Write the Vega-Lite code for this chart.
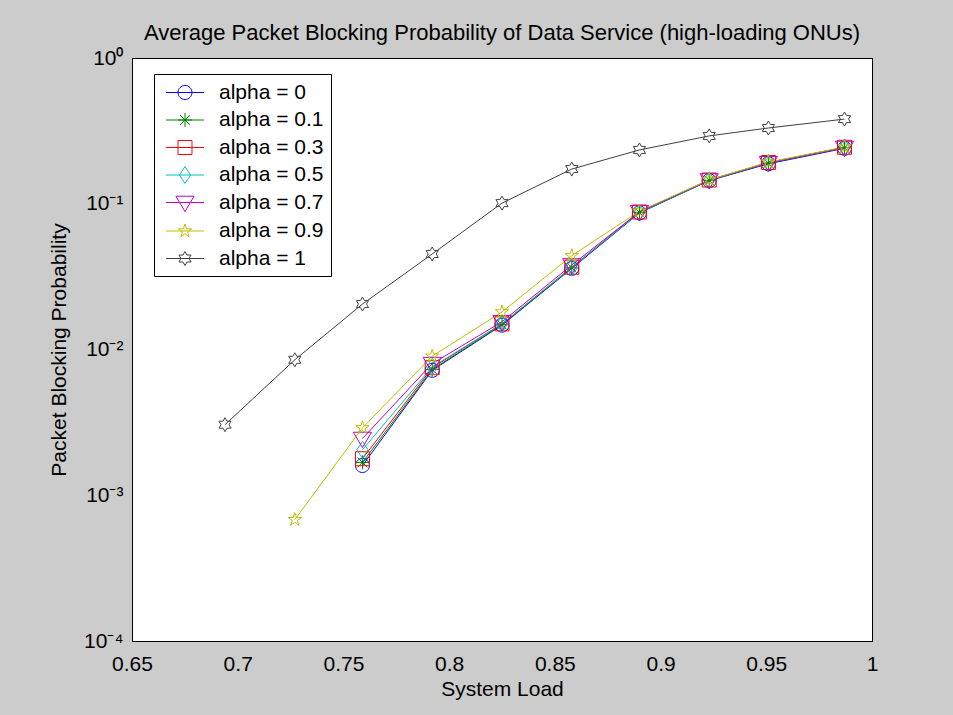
{
  "$schema": "https://vega.github.io/schema/vega-lite/v6.json",
  "width": 740,
  "height": 583,
  "autosize": {"type": "none"},
  "padding": {"left": 132, "top": 58, "right": 81, "bottom": 74},
  "background": "#cccccc",
  "title": {"text": "Average Packet Blocking Probability of Data Service (high-loading ONUs)", "font": "Liberation Sans", "fontSize": 22, "fontWeight": "normal", "color": "#000000", "anchor": "middle", "offset": 2},
  "config": {
    "view": {"fill": "white", "stroke": "black", "strokeWidth": 1},
    "axis": {"domainColor": "black", "tickColor": "black", "labelColor": "black", "titleColor": "black", "labelFont": "Liberation Sans", "titleFont": "Liberation Sans", "labelFontSize": 21, "titleFontSize": 21, "titleFontWeight": "normal", "grid": false, "labelOverlap": false, "labelFlush": false, "tickSize": 0}
  },
  "data": {"values": [
    {"s": "alpha = 0", "x": 0.759, "y": 0.0016},
    {"s": "alpha = 0", "x": 0.792, "y": 0.0072},
    {"s": "alpha = 0", "x": 0.825, "y": 0.0147},
    {"s": "alpha = 0", "x": 0.858, "y": 0.036},
    {"s": "alpha = 0", "x": 0.89, "y": 0.0865},
    {"s": "alpha = 0", "x": 0.923, "y": 0.144},
    {"s": "alpha = 0", "x": 0.951, "y": 0.188},
    {"s": "alpha = 0", "x": 0.987, "y": 0.24},
    {"s": "alpha = 0.1", "x": 0.759, "y": 0.00168},
    {"s": "alpha = 0.1", "x": 0.792, "y": 0.0073},
    {"s": "alpha = 0.1", "x": 0.825, "y": 0.0148},
    {"s": "alpha = 0.1", "x": 0.858, "y": 0.0363},
    {"s": "alpha = 0.1", "x": 0.89, "y": 0.087},
    {"s": "alpha = 0.1", "x": 0.923, "y": 0.1445},
    {"s": "alpha = 0.1", "x": 0.951, "y": 0.19},
    {"s": "alpha = 0.1", "x": 0.987, "y": 0.242},
    {"s": "alpha = 0.3", "x": 0.759, "y": 0.00178},
    {"s": "alpha = 0.3", "x": 0.792, "y": 0.0075},
    {"s": "alpha = 0.3", "x": 0.825, "y": 0.015},
    {"s": "alpha = 0.3", "x": 0.858, "y": 0.0367},
    {"s": "alpha = 0.3", "x": 0.89, "y": 0.0878},
    {"s": "alpha = 0.3", "x": 0.923, "y": 0.1455},
    {"s": "alpha = 0.3", "x": 0.951, "y": 0.192},
    {"s": "alpha = 0.3", "x": 0.987, "y": 0.244},
    {"s": "alpha = 0.5", "x": 0.759, "y": 0.00205},
    {"s": "alpha = 0.5", "x": 0.792, "y": 0.0076},
    {"s": "alpha = 0.5", "x": 0.825, "y": 0.015},
    {"s": "alpha = 0.5", "x": 0.858, "y": 0.0365},
    {"s": "alpha = 0.5", "x": 0.89, "y": 0.0872},
    {"s": "alpha = 0.5", "x": 0.923, "y": 0.145},
    {"s": "alpha = 0.5", "x": 0.951, "y": 0.191},
    {"s": "alpha = 0.5", "x": 0.987, "y": 0.244},
    {"s": "alpha = 0.7", "x": 0.759, "y": 0.00245},
    {"s": "alpha = 0.7", "x": 0.792, "y": 0.008},
    {"s": "alpha = 0.7", "x": 0.825, "y": 0.0155},
    {"s": "alpha = 0.7", "x": 0.858, "y": 0.038},
    {"s": "alpha = 0.7", "x": 0.89, "y": 0.088},
    {"s": "alpha = 0.7", "x": 0.923, "y": 0.1455},
    {"s": "alpha = 0.7", "x": 0.951, "y": 0.191},
    {"s": "alpha = 0.7", "x": 0.987, "y": 0.243},
    {"s": "alpha = 0.9", "x": 0.727, "y": 0.00068},
    {"s": "alpha = 0.9", "x": 0.759, "y": 0.0029},
    {"s": "alpha = 0.9", "x": 0.792, "y": 0.009},
    {"s": "alpha = 0.9", "x": 0.825, "y": 0.0181},
    {"s": "alpha = 0.9", "x": 0.858, "y": 0.044},
    {"s": "alpha = 0.9", "x": 0.89, "y": 0.089},
    {"s": "alpha = 0.9", "x": 0.923, "y": 0.146},
    {"s": "alpha = 0.9", "x": 0.951, "y": 0.193},
    {"s": "alpha = 0.9", "x": 0.987, "y": 0.245},
    {"s": "alpha = 1", "x": 0.694, "y": 0.00305},
    {"s": "alpha = 1", "x": 0.727, "y": 0.0085},
    {"s": "alpha = 1", "x": 0.759, "y": 0.0205},
    {"s": "alpha = 1", "x": 0.792, "y": 0.0452},
    {"s": "alpha = 1", "x": 0.825, "y": 0.101},
    {"s": "alpha = 1", "x": 0.858, "y": 0.173},
    {"s": "alpha = 1", "x": 0.89, "y": 0.234},
    {"s": "alpha = 1", "x": 0.923, "y": 0.292},
    {"s": "alpha = 1", "x": 0.951, "y": 0.331},
    {"s": "alpha = 1", "x": 0.987, "y": 0.381}
  ]},
  "layer": [
    {
      "mark": {"type": "line", "strokeWidth": 1},
      "encoding": {
        "x": {"field": "x", "type": "quantitative", "scale": {"domain": [0.65, 1], "nice": false, "zero": false},
          "axis": {"orient": "bottom", "values": [0.65, 0.7, 0.75, 0.8, 0.85, 0.9, 0.95, 1], "format": ".2~f", "labelPadding": 12, "title": "System Load", "titlePadding": 4,
            "encoding": {"ticks": {"update": {"y2": {"value": -9}}}}}},
        "y": {"field": "y", "type": "quantitative", "scale": {"type": "log", "domain": [0.0001, 1], "nice": false},
          "axis": {"orient": "left", "values": [0.0001,0.0002,0.0003,0.0004,0.0005,0.0006,0.0007,0.0008,0.0009,0.001,0.002,0.003,0.004,0.005,0.006,0.007,0.008,0.009,0.01,0.02,0.03,0.04,0.05,0.06,0.07,0.08,0.09,0.1,0.2,0.3,0.4,0.5,0.6,0.7,0.8,0.9,1],
            "labelExpr": "abs(log(datum.value)/LN10 - round(log(datum.value)/LN10)) < 0.001 ? '10' + (round(log(datum.value)/LN10) == 0 ? '⁰' : round(log(datum.value)/LN10) == -1 ? '⁻¹' : round(log(datum.value)/LN10) == -2 ? '⁻²' : round(log(datum.value)/LN10) == -3 ? '⁻³' : '⁻⁴') : ''",
            "labelPadding": 9, "title": "Packet Blocking Probability", "titlePadding": 14,
            "encoding": {"ticks": {"update": {"x2": {"signal": "abs(log(datum.value)/LN10 - round(log(datum.value)/LN10)) < 0.001 ? 8 : 4"}}}}}},
        "color": {"field": "s", "type": "nominal",
          "scale": {"domain": ["alpha = 0", "alpha = 0.1", "alpha = 0.3", "alpha = 0.5", "alpha = 0.7", "alpha = 0.9", "alpha = 1"], "range": ["#0000ff", "#008000", "#ff0000", "#00bfbf", "#bf00bf", "#bfbf00", "#404040"]},
          "legend": {"title": null, "orient": "none", "legendX": 22, "legendY": 16, "padding": 7, "strokeColor": "black", "fillColor": "white", "symbolSize": 484, "symbolStrokeWidth": 1, "symbolFillColor": "transparent", "labelFont": "Liberation Sans", "labelFontSize": 21, "labelColor": "black", "labelOffset": 35, "rowPadding": 5.5, "labelExpr": "datum.label + '\u00a0\u00a0\u00a0'",
            "encoding": {"symbols": {"fill": {"value": "transparent"}, "shape": {"value": {"expr": "datum.value === 'alpha = 0' ? 'M1.772,0A0.636,0.636,0,1,1,0.5,0A0.636,0.636,0,1,1,1.772,0Z M-0.59,0L2.864,0' : datum.value === 'alpha = 0.1' ? 'M0.5,0L1.772,0M1.136,-0.636L1.136,0.636M0.691,-0.445L1.581,0.445M0.691,0.445L1.581,-0.445 M-0.59,0L2.864,0' : datum.value === 'alpha = 0.3' ? 'M0.5,-0.636L1.772,-0.636L1.772,0.636L0.5,0.636Z M-0.59,0L2.864,0' : datum.value === 'alpha = 0.5' ? 'M1.136,-0.763L1.645,0L1.136,0.763L0.627,0Z M-0.59,0L2.864,0' : datum.value === 'alpha = 0.7' ? 'M0.309,-0.572L1.963,-0.572L1.136,0.827Z M-0.59,0L2.864,0' : datum.value === 'alpha = 0.9' ? 'M1.136,-0.636L1.279,-0.197L1.741,-0.197L1.367,0.075L1.51,0.515L1.136,0.243L0.762,0.515L0.905,0.075L0.531,-0.197L0.993,-0.197Z M-0.59,0L2.864,0' : 'M1.136,-0.636L1.32,-0.318L1.687,-0.318L1.503,0L1.687,0.318L1.32,0.318L1.136,0.636L0.952,0.318L0.585,0.318L0.769,0L0.585,-0.318L0.952,-0.318Z M-0.59,0L2.864,0'"}}}}}}
      }
    },
    {
      "transform": [{"filter": {"field": "s", "equal": "alpha = 0"}}],
      "mark": {"type": "point", "filled": false, "strokeWidth": 1, "size": 196, "opacity": 1, "color": "#0000ff", "shape": "M1,0A1,1,0,1,1,-1,0A1,1,0,1,1,1,0Z"},
      "encoding": {
        "x": {"field": "x", "type": "quantitative", "scale": {"domain": [0.65, 1], "nice": false, "zero": false},
          "axis": {"orient": "top", "values": [0.65, 0.7, 0.75, 0.8, 0.85, 0.9, 0.95, 1], "labels": false, "title": null,
            "encoding": {"ticks": {"update": {"y2": {"value": 9}}}}}},
        "y": {"field": "y", "type": "quantitative", "scale": {"type": "log", "domain": [0.0001, 1], "nice": false},
          "axis": {"orient": "right", "values": [0.0001,0.0002,0.0003,0.0004,0.0005,0.0006,0.0007,0.0008,0.0009,0.001,0.002,0.003,0.004,0.005,0.006,0.007,0.008,0.009,0.01,0.02,0.03,0.04,0.05,0.06,0.07,0.08,0.09,0.1,0.2,0.3,0.4,0.5,0.6,0.7,0.8,0.9,1], "labels": false, "title": null,
            "encoding": {"ticks": {"update": {"x2": {"signal": "abs(log(datum.value)/LN10 - round(log(datum.value)/LN10)) < 0.001 ? -8 : -4"}}}}}}
      }
    },
    {
      "transform": [{"filter": {"field": "s", "equal": "alpha = 0.1"}}],
      "mark": {"type": "point", "filled": false, "strokeWidth": 1, "size": 196, "opacity": 1, "color": "#008000", "shape": "M-1,0L1,0M0,-1L0,1M-0.7,-0.7L0.7,0.7M-0.7,0.7L0.7,-0.7"},
      "encoding": {
        "x": {"field": "x", "type": "quantitative", "scale": {"domain": [0.65, 1], "nice": false, "zero": false}, "axis": null},
        "y": {"field": "y", "type": "quantitative", "scale": {"type": "log", "domain": [0.0001, 1], "nice": false}, "axis": null}
      }
    },
    {
      "transform": [{"filter": {"field": "s", "equal": "alpha = 0.3"}}],
      "mark": {"type": "point", "filled": false, "strokeWidth": 1, "size": 196, "opacity": 1, "color": "#ff0000", "shape": "M-1,-1L1,-1L1,1L-1,1Z"},
      "encoding": {
        "x": {"field": "x", "type": "quantitative", "scale": {"domain": [0.65, 1], "nice": false, "zero": false}, "axis": null},
        "y": {"field": "y", "type": "quantitative", "scale": {"type": "log", "domain": [0.0001, 1], "nice": false}, "axis": null}
      }
    },
    {
      "transform": [{"filter": {"field": "s", "equal": "alpha = 0.5"}}],
      "mark": {"type": "point", "filled": false, "strokeWidth": 1, "size": 196, "opacity": 1, "color": "#00bfbf", "shape": "M0,-1.2L0.8,0L0,1.2L-0.8,0Z"},
      "encoding": {
        "x": {"field": "x", "type": "quantitative", "scale": {"domain": [0.65, 1], "nice": false, "zero": false}, "axis": null},
        "y": {"field": "y", "type": "quantitative", "scale": {"type": "log", "domain": [0.0001, 1], "nice": false}, "axis": null}
      }
    },
    {
      "transform": [{"filter": {"field": "s", "equal": "alpha = 0.7"}}],
      "mark": {"type": "point", "filled": false, "strokeWidth": 1, "size": 196, "opacity": 1, "color": "#bf00bf", "shape": "M-1.3,-0.9L1.3,-0.9L0,1.3Z"},
      "encoding": {
        "x": {"field": "x", "type": "quantitative", "scale": {"domain": [0.65, 1], "nice": false, "zero": false}, "axis": null},
        "y": {"field": "y", "type": "quantitative", "scale": {"type": "log", "domain": [0.0001, 1], "nice": false}, "axis": null}
      }
    },
    {
      "transform": [{"filter": {"field": "s", "equal": "alpha = 0.9"}}],
      "mark": {"type": "point", "filled": false, "strokeWidth": 1, "size": 196, "opacity": 1, "color": "#bfbf00", "shape": "M0,-1L0.2245,-0.309L0.951,-0.309L0.363,0.118L0.588,0.809L0,0.382L-0.588,0.809L-0.363,0.118L-0.951,-0.309L-0.2245,-0.309Z"},
      "encoding": {
        "x": {"field": "x", "type": "quantitative", "scale": {"domain": [0.65, 1], "nice": false, "zero": false}, "axis": null},
        "y": {"field": "y", "type": "quantitative", "scale": {"type": "log", "domain": [0.0001, 1], "nice": false}, "axis": null}
      }
    },
    {
      "transform": [{"filter": {"field": "s", "equal": "alpha = 1"}}],
      "mark": {"type": "point", "filled": false, "strokeWidth": 1, "size": 196, "opacity": 1, "color": "#404040", "shape": "M0,-1L0.289,-0.5L0.866,-0.5L0.577,0L0.866,0.5L0.289,0.5L0,1L-0.289,0.5L-0.866,0.5L-0.577,0L-0.866,-0.5L-0.289,-0.5Z"},
      "encoding": {
        "x": {"field": "x", "type": "quantitative", "scale": {"domain": [0.65, 1], "nice": false, "zero": false}, "axis": null},
        "y": {"field": "y", "type": "quantitative", "scale": {"type": "log", "domain": [0.0001, 1], "nice": false}, "axis": null}
      }
    }
  ],
  "resolve": {"axis": {"x": "independent", "y": "independent"}}
}
